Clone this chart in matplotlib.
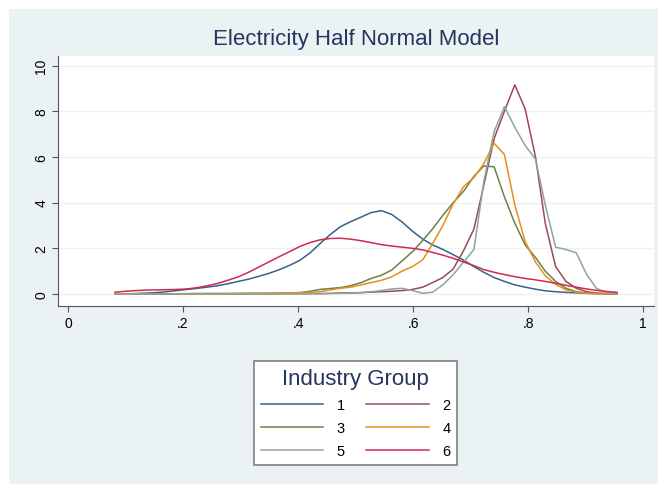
import matplotlib
matplotlib.use('Agg')
import matplotlib.pyplot as plt
from matplotlib.patches import Rectangle
from matplotlib.lines import Line2D

plt.rcParams['font.family'] = ['Liberation Sans', 'DejaVu Sans']

# kdensity grid (50 points)
x = [0.082, 0.100, 0.118, 0.135, 0.153, 0.171, 0.189, 0.207, 0.225, 0.242,
     0.260, 0.278, 0.296, 0.314, 0.331, 0.349, 0.367, 0.385, 0.403, 0.421,
     0.438, 0.456, 0.474, 0.492, 0.510, 0.527, 0.545, 0.563, 0.581, 0.599,
     0.617, 0.634, 0.652, 0.670, 0.688, 0.706, 0.723, 0.741, 0.759, 0.777,
     0.795, 0.813, 0.830, 0.848, 0.866, 0.884, 0.902, 0.919, 0.937, 0.955]

g1 = [0.00, 0.01, 0.02, 0.04, 0.06, 0.10, 0.15, 0.20, 0.25, 0.30,
      0.36, 0.45, 0.55, 0.65, 0.77, 0.90, 1.06, 1.25, 1.47, 1.80,
      2.20, 2.60, 2.95, 3.17, 3.37, 3.56, 3.65, 3.48, 3.15, 2.75,
      2.40, 2.15, 1.95, 1.72, 1.48, 1.20, 0.95, 0.72, 0.55, 0.40,
      0.30, 0.21, 0.14, 0.10, 0.07, 0.05, 0.03, 0.02, 0.01, 0.01]

g2 = [0.00, 0.00, 0.00, 0.00, 0.00, 0.00, 0.01, 0.01, 0.01, 0.01,
      0.01, 0.01, 0.01, 0.01, 0.01, 0.01, 0.01, 0.02, 0.02, 0.02,
      0.02, 0.03, 0.04, 0.05, 0.06, 0.08, 0.10, 0.12, 0.15, 0.20,
      0.30, 0.50, 0.72, 1.10, 1.90, 2.85, 4.75, 6.80, 8.00, 9.15,
      8.10, 6.00, 3.10, 1.20, 0.55, 0.25, 0.10, 0.04, 0.02, 0.01]

g3 = [0.00, 0.00, 0.01, 0.01, 0.01, 0.01, 0.01, 0.01, 0.02, 0.02,
      0.02, 0.02, 0.02, 0.03, 0.03, 0.03, 0.04, 0.05, 0.06, 0.12,
      0.20, 0.24, 0.28, 0.37, 0.50, 0.68, 0.82, 1.05, 1.45, 1.85,
      2.35, 2.85, 3.45, 4.00, 4.50, 5.15, 5.60, 5.57, 4.25, 3.10,
      2.15, 1.60, 1.00, 0.55, 0.25, 0.10, 0.04, 0.02, 0.01, 0.01]

g4 = [0.00, 0.00, 0.01, 0.01, 0.01, 0.01, 0.01, 0.02, 0.02, 0.02,
      0.02, 0.02, 0.03, 0.03, 0.03, 0.04, 0.05, 0.05, 0.06, 0.07,
      0.10, 0.18, 0.25, 0.30, 0.40, 0.50, 0.60, 0.75, 1.00, 1.20,
      1.50, 2.20, 3.00, 3.95, 4.70, 5.10, 5.70, 6.60, 6.10, 3.90,
      2.30, 1.40, 0.80, 0.42, 0.18, 0.08, 0.03, 0.01, 0.01, 0.00]

g5 = [0.00, 0.00, 0.00, 0.00, 0.00, 0.01, 0.01, 0.01, 0.01, 0.01,
      0.01, 0.01, 0.01, 0.01, 0.01, 0.01, 0.01, 0.01, 0.01, 0.01,
      0.01, 0.02, 0.03, 0.04, 0.06, 0.10, 0.15, 0.22, 0.25, 0.15,
      0.03, 0.08, 0.40, 0.85, 1.40, 1.95, 4.90, 7.10, 8.20, 7.30,
      6.50, 5.90, 3.90, 2.05, 1.95, 1.80, 0.85, 0.25, 0.05, 0.02]

g6 = [0.08, 0.12, 0.15, 0.17, 0.18, 0.19, 0.20, 0.22, 0.28, 0.36,
      0.46, 0.60, 0.75, 0.95, 1.17, 1.40, 1.63, 1.85, 2.08, 2.25,
      2.37, 2.43, 2.44, 2.40, 2.33, 2.25, 2.16, 2.10, 2.05, 2.00,
      1.93, 1.82, 1.70, 1.56, 1.40, 1.24, 1.07, 0.95, 0.85, 0.76,
      0.68, 0.62, 0.55, 0.47, 0.38, 0.30, 0.22, 0.16, 0.11, 0.07]

series = [g1, g2, g3, g4, g5, g6]
labels = ['1', '2', '3', '4', '5', '6']
colors = ['#36628c', '#9c4a52', '#658448', '#eb8d1c', '#8ea59c', '#d02a52']

xticks = [0, 0.2, 0.4, 0.6, 0.8, 1]
xticklabels = ['0', '.2', '.4', '.6', '.8', '1']
yticks = [0, 2, 4, 6, 8, 10]
yticklabels = ['0', '2', '4', '6', '8', '10']

bg = '#eaf2f3'
navy = '#24355e'
W, H = 658, 485
fig = plt.figure(figsize=(W / 100, H / 100), dpi=100)
fig.patch.set_facecolor('white')
fig.add_artist(Rectangle((9 / W, 0), 1, (H - 10) / H, transform=fig.transFigure,
                         facecolor=bg, edgecolor='none', zorder=-10))

ax = fig.add_axes([58 / W, 1 - 307 / H, (654 - 58) / W, (307 - 57) / H])
ax.set_facecolor('white')

for ys, c in zip(series, colors):
    ax.plot(x, ys, color=c, lw=1.1)

ax.set_xlim(-0.0174, 1.0191)
ax.set_ylim(-0.525, 10.416)
ax.set_xticks(xticks)
ax.set_xticklabels(xticklabels)
ax.set_yticks(yticks)
ax.set_yticklabels(yticklabels, rotation=90, va='center')
ax.tick_params(direction='out', length=4, width=0.8, color='#555555',
               labelsize=10, labelcolor='black', pad=3)
ax.grid(axis='y', color=bg, lw=1.0)
ax.set_axisbelow(True)
for s in ['top', 'right']:
    ax.spines[s].set_visible(False)
for s in ['left', 'bottom']:
    ax.spines[s].set_color('#555555')
    ax.spines[s].set_linewidth(0.8)

fig.text(356 / W, 1 - 40 / H, 'Electricity Half Normal Model', ha='center', va='center',
         fontsize=16, color=navy)

# legend filled row by row: 1 2 / 3 4 / 5 6
order = [0, 2, 4, 1, 3, 5]
handles = [Line2D([], [], color=colors[i], lw=1.1) for i in order]
leg = fig.legend(handles, [labels[i] for i in order], ncol=2, loc='center',
                 bbox_to_anchor=(355.5 / W, 1 - 414 / H),
                 title='Industry Group', title_fontsize=16, fontsize=10.5,
                 handlelength=4.3, handletextpad=0.9, columnspacing=1.5,
                 labelspacing=0.62, borderpad=0.45, fancybox=False,
                 framealpha=1, edgecolor='#808080', facecolor='white')
leg.get_frame().set_linewidth(1.2)
leg.get_title().set_color(navy)

fig.savefig('out.png', dpi=100)
